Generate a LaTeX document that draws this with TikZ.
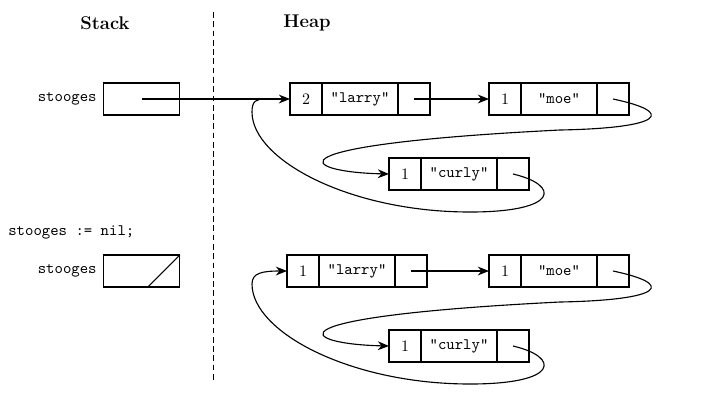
\documentclass[tikz,border=0pt]{standalone}
\usepackage{tikz}
\usetikzlibrary{positioning,arrows.meta}
\tikzset{%
  every cell/.style={
    rectangle,
    draw,
    line width=0.7pt,
    minimum width=20pt,
    minimum height=20pt,
    inner sep=0pt,
    outer sep=0pt
  },
  name cell/.style={every cell, minimum width=47.5pt, font=\ttfamily},
  stack cell/.style={every cell, minimum width=48pt},
  pointer/.style={->, line width=0.7pt},
  heading/.style={font=\fontsize{11.5}{14}\selectfont\bfseries},
}
\begin{document}
\begin{tikzpicture}[> = {Stealth[length=7pt,width=5.5pt]}, x=0.625pt, y=-0.625pt]
\useasboundingbox (0,0) rectangle (724,411);
\node[heading] (stack_title) at (105,23) {Stack};
\node[heading] (heap_title) at (307,23) {Heap};
\draw[line width=0.6pt, dash pattern=on 3.6pt off 2.2pt] (213,12) -- (213,381);
\node[anchor=west, inner sep=0pt, font=\ttfamily] (nil_stmt) at (8,232) {stooges := nil;};
    \foreach \r/\yy/\n/\xl in {a/0/2/306, b/172/1/303}
        {\node[stack cell] (stooges_\r) at (141.5,99+\yy) {};
        \node[left=0.5pt of stooges_\r, font=\ttfamily] (stooges_label_\r) {stooges};
        \node[every cell] (larry_\r) at (\xl,99+\yy) {\n};
        \node[name cell, right=0pt of larry_\r] (larry_name_\r) {"larry"};
        \node[every cell, right=0pt of larry_name_\r] (larry_next_\r) {};
        \node[every cell] (moe_\r) at (505,99+\yy) {1};
        \node[name cell, right=0pt of moe_\r] (moe_name_\r) {"moe"};
        \node[every cell, right=0pt of moe_name_\r] (moe_next_\r) {};
        \node[every cell] (curly_\r) at (405,174+\yy) {1};
        \node[name cell, right=0pt of curly_\r] (curly_name_\r) {"curly"};
        \node[every cell, right=0pt of curly_name_\r] (curly_next_\r) {};
        \draw[pointer] (larry_next_\r.center) -- (moe_\r.west);
        \draw[pointer] (moe_next_\r.center) .. controls (675,112+\yy) and (665,128+\yy) .. (560,130+\yy)
            .. controls (260,145+\yy) and (300,172+\yy) .. (curly_\r.west);}
% before: stooges points to larry
\draw[pointer] (stooges_a.center) -- (larry_a.west);
\coordinate (join) at (265,99);
\draw[line width=0.7pt] (curly_next_a.center) .. controls (560,185) and (560,212) .. (470,212)
    .. controls (350,212) and (252,160) .. (252,112) .. controls (252,101) and (256,99) .. (join);
% after: nil
\draw[line width=0.7pt] ([xshift=-20pt]stooges_b.south east) -- (stooges_b.north east);
\draw[pointer] (curly_next_b.center) .. controls (560,357) and (560,384) .. (470,384)
    .. controls (350,384) and (252,332) .. (252,284) .. controls (252,273) and (262,271) .. (larry_b.west);
\end{tikzpicture}
\end{document}
